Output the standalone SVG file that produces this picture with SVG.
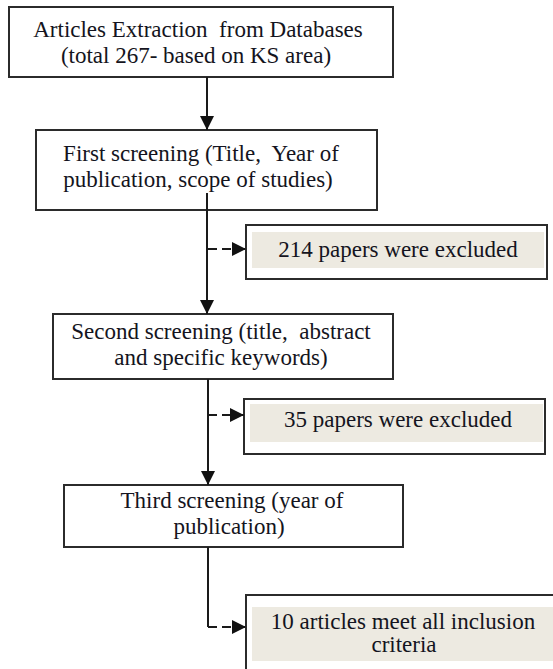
<svg xmlns="http://www.w3.org/2000/svg" width="553" height="669" viewBox="0 0 553 669">
<style>
.box{fill:#fff;stroke:#2b2b2b;stroke-width:2}
.shade{fill:#edeae1;stroke:none}
.t{font-size:23px;fill:#141420;text-anchor:middle;white-space:pre}
.ln{stroke:#1a1a1a;stroke-width:2;fill:none}
.dash{stroke:#1a1a1a;stroke-width:2;fill:none;stroke-dasharray:9 5}
</style>
<defs>
<marker id="ah" viewBox="0 0 14 14" refX="14" refY="7" markerWidth="14" markerHeight="14" markerUnits="userSpaceOnUse" orient="auto">
<path d="M0,0 L14,7 L0,14 Z" fill="#111"/>
</marker>
</defs>
<rect width="553" height="669" fill="#fff"/>
<g font-family="Liberation Serif, serif">
<g id="n1">
<rect class="box" x="9" y="7" width="384" height="70"/>
<text class="t" x="198" y="37">Articles Extraction  from Databases</text>
<text class="t" x="196" y="63">(total 267- based on KS area)</text>
</g>
<g id="n2">
<rect class="box" x="36" y="130" width="341" height="80"/>
<text class="t" x="201" y="161">First screening (Title,  Year of</text>
<text class="t" x="198" y="187">publication, scope of studies)</text>
</g>
<g id="e1">
<rect class="box" x="246" y="225" width="301" height="54"/>
<rect class="shade" x="252" y="232" width="292" height="36"/>
<text class="t" x="398" y="257">214 papers were excluded</text>
</g>
<g id="n3">
<rect class="box" x="53" y="314" width="340" height="65"/>
<text class="t" x="221" y="339">Second screening (title,  abstract</text>
<text class="t" x="221" y="365">and specific keywords)</text>
</g>
<g id="e2">
<rect class="box" x="244" y="399" width="301" height="55"/>
<rect class="shade" x="250" y="404" width="293" height="38"/>
<text class="t" x="398" y="427">35 papers were excluded</text>
</g>
<g id="n4">
<rect class="box" x="64" y="485" width="339" height="62"/>
<text class="t" x="232" y="508">Third screening (year of</text>
<text class="t" x="229" y="534">publication)</text>
</g>
<g id="e3">
<rect class="box" x="246" y="595" width="320" height="90"/>
<rect class="shade" x="252" y="607" width="310" height="54"/>
<text class="t" x="403" y="629">10 articles meet all inclusion</text>
<text class="t" x="404" y="652">criteria</text>
</g>
</g>
<g id="connectors">
<line class="ln" x1="207" y1="77" x2="207" y2="130" marker-end="url(#ah)"/>
<line class="ln" x1="207" y1="193" x2="207" y2="314" marker-end="url(#ah)"/>
<line class="dash" x1="208" y1="249" x2="246" y2="249" marker-end="url(#ah)"/>
<line class="ln" x1="208" y1="379" x2="208" y2="485" marker-end="url(#ah)"/>
<line class="dash" x1="208" y1="415" x2="244" y2="415" marker-end="url(#ah)"/>
<line class="ln" x1="208" y1="547" x2="208" y2="627"/>
<line class="dash" x1="208" y1="627" x2="246" y2="627" marker-end="url(#ah)"/>
</g>
</svg>
